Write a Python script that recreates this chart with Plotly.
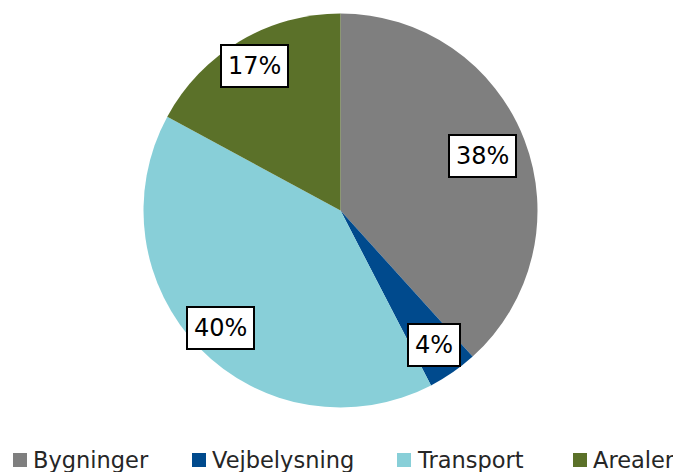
import math
import plotly.graph_objects as go

categories = ["Bygninger", "Vejbelysning", "Transport", "Arealer"]
values = [38.3, 4.1, 40.5, 17.1]
labels = ["38%", "4%", "40%", "17%"]
colors = ["#7F7F7F", "#004A8D", "#88CFD8", "#5B7129"]

# layout / style constants (page pixels)
PAGE_OFF = 8                       # default body margin of the html page
W, H = 681, 472
label_radius = [0.77, 0.83, 0.85, 0.856]
legend_square_x = [13, 192, 397, 573]
legend_text_x = [31, 210, 415, 591]
legend_y = (453, 467)


def px(x):
    return (x - PAGE_OFF) / W


def py(y):
    return 1 - (y - PAGE_OFF) / H


dom_x = [px(143.5), px(537.5)]
dom_y = [py(408), py(13)]

fig = go.Figure(go.Pie(
    labels=categories, values=values, sort=False, direction="clockwise",
    rotation=0, textinfo="none", hoverinfo="label+percent",
    marker=dict(colors=colors, line=dict(width=0)),
    domain=dict(x=dom_x, y=dom_y), showlegend=False,
))

# data labels, positioned from the slice angles
cx = (dom_x[0] + dom_x[1]) / 2
cy = (dom_y[0] + dom_y[1]) / 2
R = min((dom_x[1] - dom_x[0]) * W, (dom_y[1] - dom_y[0]) * H) / 2
total = sum(values)
cum = 0
for v, t, f in zip(values, labels, label_radius):
    mid = (cum + v / 2) / total * 2 * math.pi
    cum += v
    fig.add_annotation(
        x=cx + f * R * math.sin(mid) / W, y=cy + f * R * math.cos(mid) / H,
        xref="paper", yref="paper", xanchor="center", yanchor="middle",
        text=t, showarrow=False,
        font=dict(family="DejaVu Sans", size=24, color="#000000"),
        bgcolor="#FFFFFF", bordercolor="#000000", borderwidth=2, borderpad=6,
    )

# legend (bottom row)
for name, col, sx, tx in zip(categories, colors, legend_square_x, legend_text_x):
    fig.add_shape(type="rect", xref="paper", yref="paper",
                  x0=px(sx), x1=px(sx + 14), y0=py(legend_y[1]), y1=py(legend_y[0]),
                  fillcolor=col, line=dict(width=0))
    fig.add_annotation(x=px(tx), y=py((legend_y[0] + legend_y[1]) / 2),
                       xref="paper", yref="paper", xanchor="left", yanchor="middle",
                       text=name, showarrow=False,
                       font=dict(family="DejaVu Sans", size=22.5, color="#262626"))

fig.update_layout(
    width=W, height=H, margin=dict(l=0, r=0, t=0, b=0),
    paper_bgcolor="#FFFFFF", plot_bgcolor="#FFFFFF",
)

fig.write_html("out.html")
